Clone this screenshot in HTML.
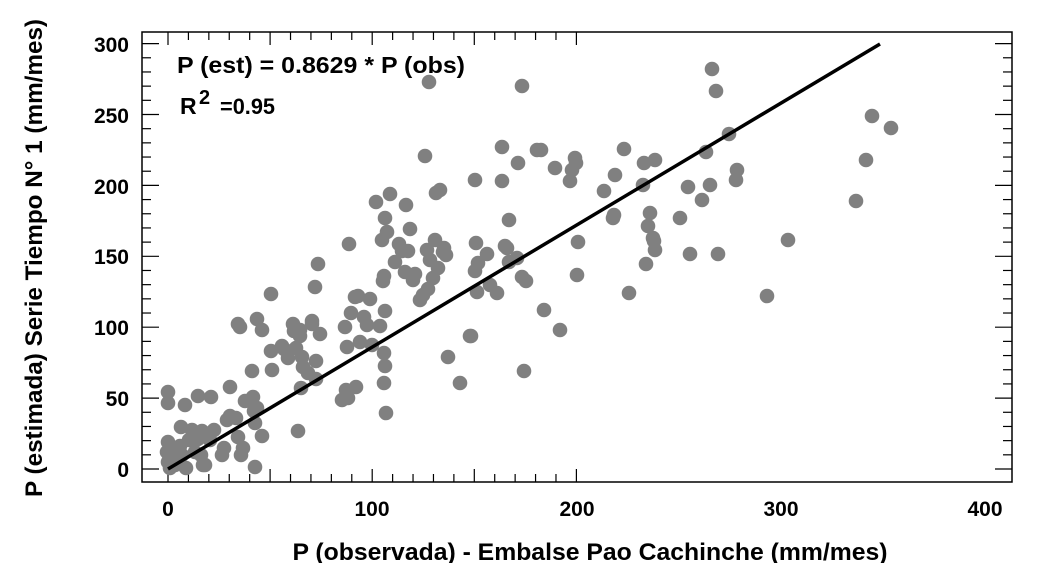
<!DOCTYPE html>
<html><head><meta charset="utf-8"><style>
body{margin:0;background:#fff;}
svg{display:block;font-family:"Liberation Sans",sans-serif;font-weight:bold;}
</style></head><body>
<svg width="1039" height="563" viewBox="0 0 1039 563">
<rect x="142" y="32" width="870" height="450" fill="none" stroke="#000" stroke-width="1.5"/>
<g stroke="#000" stroke-width="1.2" id="ticks"></g>
<g fill="#000" font-size="21">
<text x="168" y="516" text-anchor="middle">0</text>
<text x="372" y="516" text-anchor="middle">100</text>
<text x="577" y="516" text-anchor="middle">200</text>
<text x="781" y="516" text-anchor="middle">300</text>
<text x="985" y="516" text-anchor="middle">400</text>
<text x="129" y="477" text-anchor="end">0</text>
<text x="129" y="406" text-anchor="end">50</text>
<text x="129" y="335" text-anchor="end">100</text>
<text x="129" y="264" text-anchor="end">150</text>
<text x="129" y="194" text-anchor="end">200</text>
<text x="129" y="123" text-anchor="end">250</text>
<text x="129" y="52" text-anchor="end">300</text>
</g>
<text x="590" y="560" font-size="24" text-anchor="middle" textLength="595" lengthAdjust="spacingAndGlyphs">P (observada) - Embalse Pao Cachinche (mm/mes)</text>
<text transform="translate(42,258) rotate(-90)" font-size="24" text-anchor="middle" textLength="478" lengthAdjust="spacingAndGlyphs">P (estimada) Serie Tiempo N° 1 (mm/mes)</text>
<g id="dots" fill="#808080"></g>
<line x1="168" y1="469" x2="880" y2="44" stroke="#000" stroke-width="3.5"/>
<text x="177" y="73" font-size="23" textLength="288" lengthAdjust="spacingAndGlyphs">P (est) = 0.8629 * P (obs)</text>
<text x="180" y="114" font-size="23">R</text>
<text x="199" y="104" font-size="20">2</text>
<text x="220" y="114" font-size="22" textLength="55" lengthAdjust="spacingAndGlyphs">=0.95</text>
</svg>
<script>
var t=document.getElementById('ticks'),s='';
for(var i=0;i<=20;i++){var x=168+i*20.42,L=(i%5==0)?13:8;if(x>1012)break;
s+='<line x1="'+x+'" y1="482" x2="'+x+'" y2="'+(482-L)+'"/><line x1="'+x+'" y1="32" x2="'+x+'" y2="'+(32+L)+'"/>';}
for(var j=0;j<=32;j++){var y=469-j*14.18,L=(j%5==0)?17:9;if(y<32)break;
s+='<line x1="142" y1="'+y+'" x2="'+(142+L)+'" y2="'+y+'"/><line x1="1012" y1="'+y+'" x2="'+(1012-L)+'" y2="'+y+'"/>';}
t.innerHTML=s;
var p=[[429,82],[522,86],[712,69],[716,91],[425,156],[502,147],[541,150],[537,150],[576,163],[518,163],[555,168],[475,180],[502,181],[436,193],[440,190],[575,158],[572,170],[570,181],[624,149],[615,175],[604,191],[614,215],[613,218],[644,163],[655,160],[643,185],[650,213],[706,152],[710,185],[688,187],[702,200],[680,218],[729,134],[737,170],[736,180],[866,160],[872,116],[891,128],[856,201],[788,240],[767,296],[718,254],[690,254],[648,226],[653,238],[655,250],[654,241],[629,293],[646,264],[578,242],[577,275],[560,330],[544,310],[524,371],[522,277],[526,281],[517,258],[507,248],[509,262],[509,220],[505,246],[497,293],[490,285],[487,254],[478,263],[476,243],[475,271],[477,292],[470,336],[460,383],[448,357],[471,336],[444,248],[443,252],[435,240],[446,255],[427,250],[430,260],[433,278],[438,268],[423,295],[420,300],[428,289],[406,205],[390,194],[385,218],[387,232],[382,240],[395,262],[399,244],[402,251],[410,229],[408,251],[405,272],[415,274],[413,280],[384,276],[383,281],[385,311],[380,326],[376,202],[349,244],[370,299],[364,317],[367,325],[372,345],[384,353],[385,366],[384,383],[386,413],[355,297],[351,313],[358,296],[345,327],[347,347],[360,342],[342,400],[348,398],[346,390],[356,387],[318,264],[315,287],[312,321],[312,324],[320,334],[316,361],[316,379],[300,330],[293,324],[294,331],[300,336],[296,348],[302,357],[303,367],[301,388],[308,373],[298,431],[288,358],[282,346],[284,349],[271,294],[271,351],[272,370],[262,330],[257,319],[245,401],[253,397],[254,411],[257,408],[252,371],[230,387],[240,327],[238,324],[255,423],[262,436],[255,467],[241,455],[243,448],[238,437],[236,418],[230,416],[227,420],[224,448],[222,455],[214,430],[211,397],[198,396],[202,431],[198,439],[201,455],[203,465],[168,392],[168,403],[185,405],[181,427],[180,446],[178,458],[172,460],[168,442],[167,452],[168,462],[170,468],[175,465],[182,455],[189,440],[192,430],[195,452],[205,465],[176,448],[186,468],[210,440]];
var d=document.getElementById('dots'),h='';
p.forEach(function(q){h+='<circle cx="'+q[0]+'" cy="'+q[1]+'" r="7.3"/>';});
d.innerHTML=h;
</script>
</body></html>
